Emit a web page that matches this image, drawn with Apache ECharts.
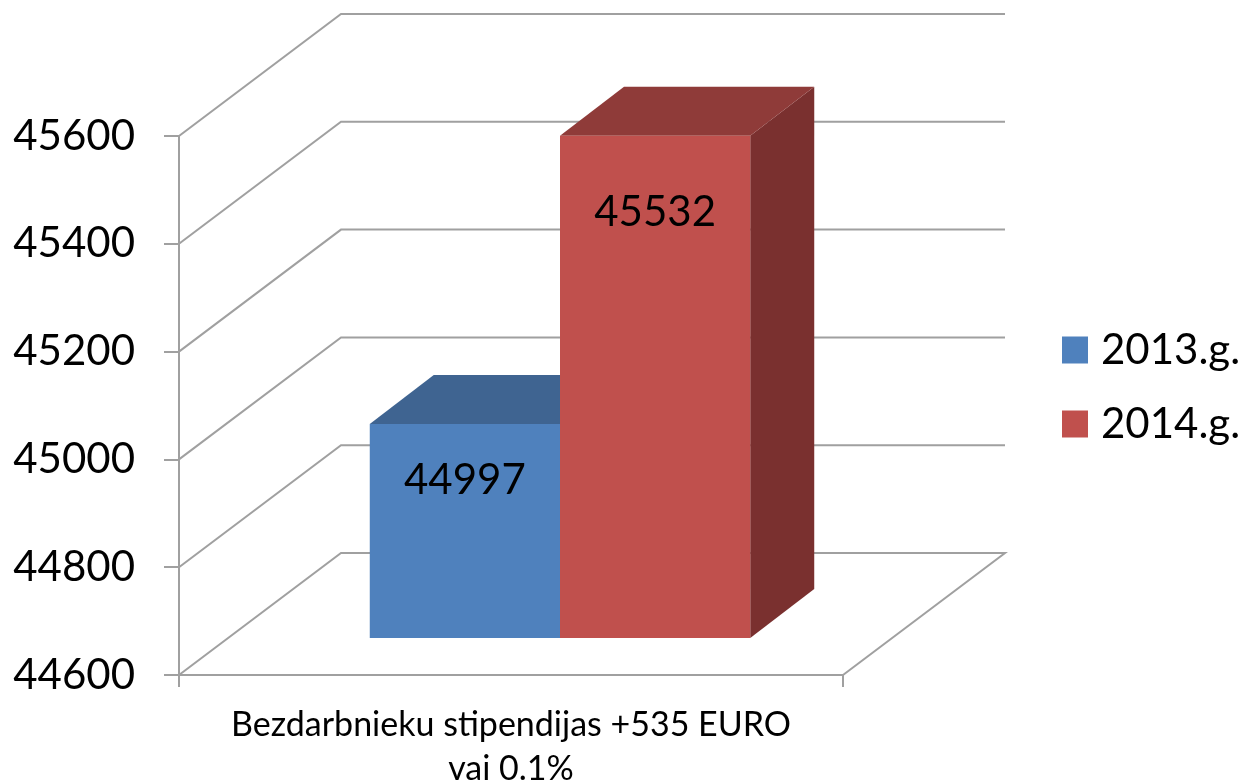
<!DOCTYPE html>
<html>
<head>
<meta charset="utf-8">
<title>Bezdarbnieku stipendijas</title>
<script src="https://cdn.jsdelivr.net/npm/echarts@6/dist/echarts.min.js"></script>
<style>
  html, body { margin: 0; padding: 0; background: #fff; }
  #chart { width: 1248px; height: 783px; }
</style>
</head>
<body>
<div id="chart"></div>
<script>
const categories = ['Bezdarbnieku stipendijas +535 EURO\nvai 0.1%']
const values2013 = [44997]
const values2014 = [45532]
const yTicks = [44600, 44800, 45000, 45200, 45400, 45600]

const FONT = 'Lato'
const LINE = '#a0a0a0'
// fake 3D: how far the back wall and the bars sit behind the front plane
const WALL_DX = 162
const WALL_DY = -122
const BAR_FRONT_DX = 49
const BAR_FRONT_DY = -37
const BAR_DEPTH_DX = 64
const BAR_DEPTH_DY = -49
const BAR_WIDTH_RATIO = 0.2865

function renderWall(params, api) {
  const sys = params.coordSys
  const p = api.coord([0, api.value(1)])
  const x0 = sys.x
  const x1 = sys.x + sys.width
  const points = [[x0, p[1]], [x0 + WALL_DX, p[1] + WALL_DY], [x1 + WALL_DX, p[1] + WALL_DY]]
  // the lowest gridline closes the floor
  if (params.dataIndex === 0) points.push([x1, p[1]])
  return {
    type: 'polyline',
    shape: { points },
    style: { stroke: LINE, lineWidth: 2, fill: null }
  }
}

function barSeries(name, data, slot, colors, labelDrop) {
  return {
    name,
    type: 'custom',
    data: data.map((v, i) => [i, v]),
    encode: { x: 0, y: 1 },
    itemStyle: { color: colors.front },
    z: 3,
    renderItem(params, api) {
      const top = api.coord([api.value(0), api.value(1)])
      const base = api.coord([api.value(0), yTicks[0]])
      const w = api.size([1, 0])[0] * BAR_WIDTH_RATIO
      const left = top[0] + (slot - 1) * w + BAR_FRONT_DX
      const right = left + w
      const yTop = top[1] + BAR_FRONT_DY
      const yBot = base[1] + BAR_FRONT_DY
      const dx = BAR_DEPTH_DX
      const dy = BAR_DEPTH_DY
      return {
        type: 'group',
        children: [
          {
            type: 'polygon',
            shape: { points: [[right, yTop], [right + dx, yTop + dy], [right + dx, yBot + dy], [right, yBot]] },
            style: { fill: colors.side }
          },
          {
            type: 'polygon',
            shape: { points: [[left, yTop], [left + dx, yTop + dy], [right + dx, yTop + dy], [right, yTop]] },
            style: { fill: colors.top }
          },
          {
            type: 'rect',
            shape: { x: left, y: yTop, width: w, height: yBot - yTop },
            style: { fill: colors.front }
          },
          {
            type: 'text',
            style: {
              text: String(api.value(1)),
              x: left + w / 2,
              y: yTop + labelDrop,
              align: 'center',
              verticalAlign: 'middle',
              fontFamily: FONT,
              fontSize: 42,
              fill: '#000'
            }
          }
        ]
      }
    }
  }
}

const chart = echarts.init(document.getElementById('chart'))
chart.setOption({
  animation: false,
  backgroundColor: '#fff',
  textStyle: { fontFamily: FONT },
  grid: { left: 179, top: 136, width: 664, height: 539, outerBoundsMode: 'none' },
  legend: {
    orient: 'vertical',
    left: 1062,
    top: 329,
    padding: 0,
    icon: 'rect',
    itemWidth: 26,
    itemHeight: 27,
    itemGap: 32,
    data: ['2013.g.', '2014.g.'],
    textStyle: { fontFamily: FONT, fontSize: 42, color: '#000', padding: [0, 0, 0, 8] }
  },
  xAxis: {
    type: 'category',
    data: categories,
    axisLine: { lineStyle: { color: LINE, width: 2 } },
    axisTick: { show: true, alignWithLabel: false, length: 12, lineStyle: { color: LINE, width: 2 } },
    axisLabel: { color: '#000', fontSize: 34, lineHeight: 44, margin: 28 }
  },
  yAxis: {
    type: 'value',
    min: 44600,
    max: 45600,
    interval: 200,
    axisLine: { show: true, lineStyle: { color: LINE, width: 2 } },
    axisTick: { show: true, length: 15, lineStyle: { color: LINE, width: 2 } },
    axisLabel: { color: '#000', fontSize: 42, margin: 44, fontFamily: FONT, padding: [3, 0, 0, 0], formatter: v => String(v) },
    splitLine: { show: false }
  },
  series: [
    {
      type: 'custom',
      data: yTicks.map(v => [0, v]),
      encode: { x: 0, y: 1 },
      silent: true,
      z: 1,
      renderItem: renderWall
    },
    barSeries('2013.g.', values2013, 0, { front: '#4f81bd', top: '#3f6491', side: '#345a85' }, 56),
    barSeries('2014.g.', values2014, 1, { front: '#c0504d', top: '#8f3b39', side: '#7a302f' }, 77)
  ]
})
</script>
</body>
</html>
